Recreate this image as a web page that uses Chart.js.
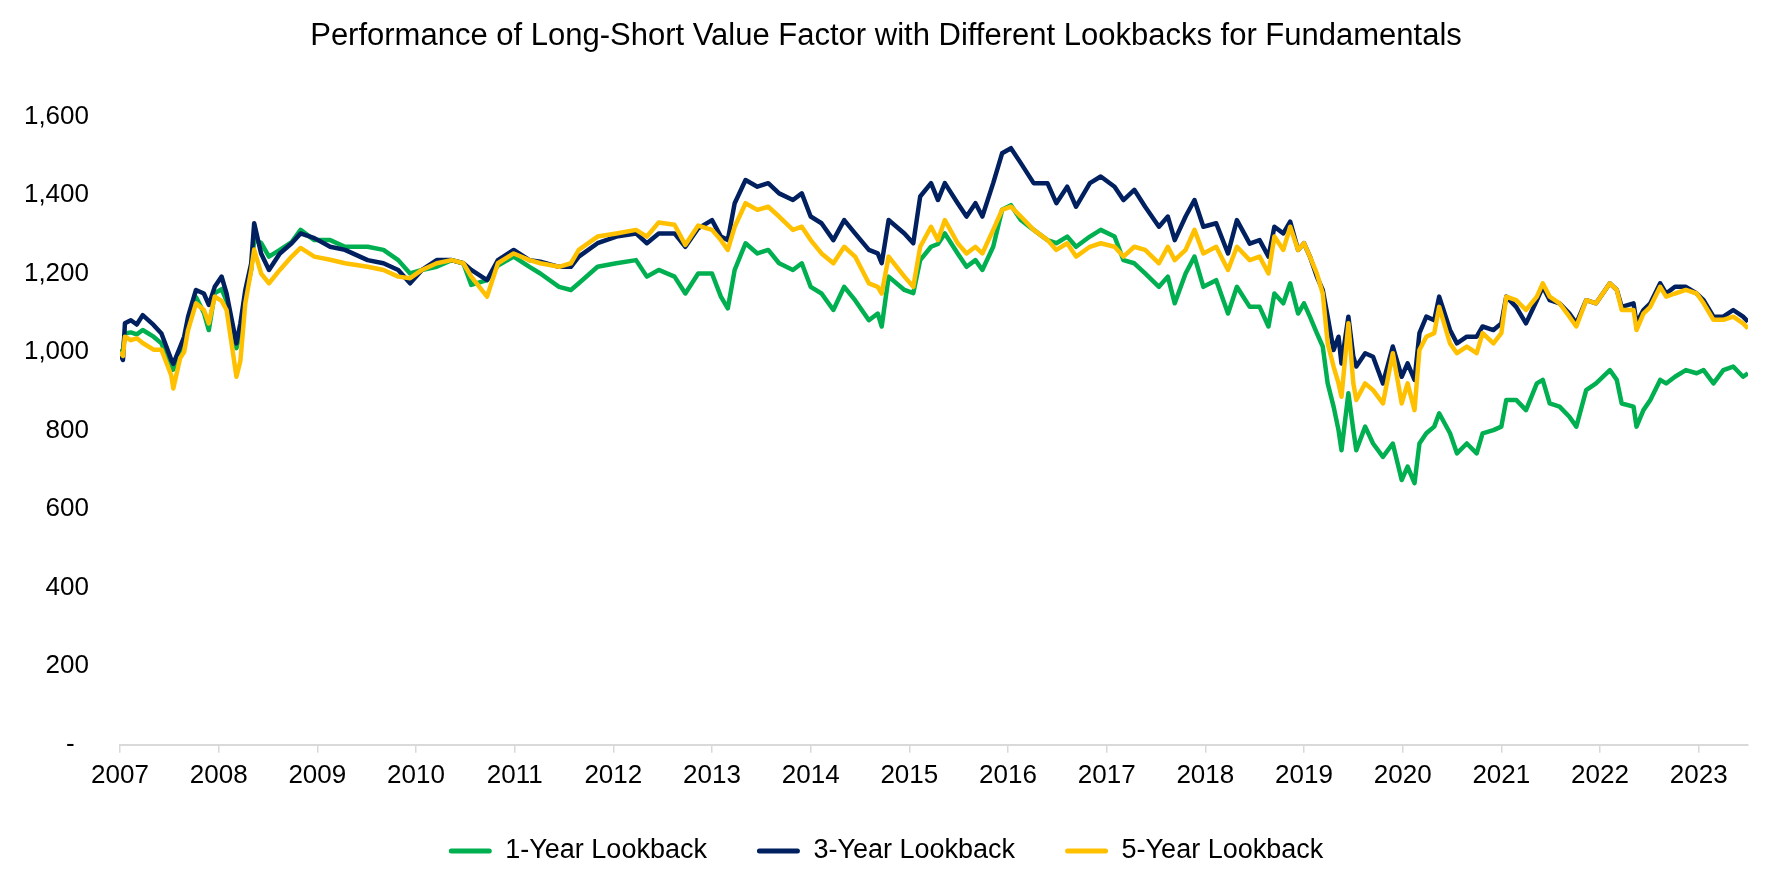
<!DOCTYPE html>
<html>
<head>
<meta charset="utf-8">
<title>Performance of Long-Short Value Factor</title>
<script src="https://cdn.jsdelivr.net/npm/chart.js@4.4.1/dist/chart.umd.min.js"></script>
<style>
    html, body { margin: 0; padding: 0; background: #fff; }
    #wrap { width: 1772px; height: 886px; }
</style>
</head>
<body>
<div id="wrap"><canvas id="chartContainer" width="1772" height="886"></canvas></div>
<script>
// dates as decimal years
var dates = [
    2007.00, 2007.03, 2007.05, 2007.11, 2007.17, 2007.23, 2007.34, 2007.42, 2007.52, 2007.54,
    2007.61, 2007.65, 2007.69, 2007.77, 2007.85, 2007.90, 2007.96, 2008.03, 2008.08, 2008.14,
    2008.18, 2008.22, 2008.27, 2008.33, 2008.36, 2008.43, 2008.51, 2008.62, 2008.74, 2008.83,
    2008.97, 2009.13, 2009.28, 2009.51, 2009.67, 2009.82, 2009.94, 2010.06, 2010.21, 2010.36,
    2010.48, 2010.56, 2010.72, 2010.83, 2010.99, 2011.15, 2011.26, 2011.45, 2011.57, 2011.65,
    2011.84, 2012.03, 2012.23, 2012.34, 2012.46, 2012.62, 2012.73, 2012.86, 2013.00, 2013.09,
    2013.16, 2013.23, 2013.34, 2013.46, 2013.57, 2013.68, 2013.82, 2013.91, 2014.00, 2014.11,
    2014.23, 2014.34, 2014.45, 2014.59, 2014.68, 2014.72, 2014.79, 2014.95, 2015.04, 2015.11,
    2015.22, 2015.29, 2015.36, 2015.49, 2015.58, 2015.67, 2015.74, 2015.85, 2015.94, 2016.03,
    2016.13, 2016.26, 2016.40, 2016.49, 2016.60, 2016.69, 2016.83, 2016.94, 2017.08, 2017.17,
    2017.28, 2017.39, 2017.53, 2017.62, 2017.69, 2017.80, 2017.89, 2017.98, 2018.11, 2018.23,
    2018.32, 2018.45, 2018.55, 2018.64, 2018.70, 2018.79, 2018.86, 2018.94, 2019.00, 2019.06,
    2019.13, 2019.19, 2019.24, 2019.30, 2019.35, 2019.38, 2019.45, 2019.50, 2019.53, 2019.62,
    2019.70, 2019.80, 2019.90, 2019.99, 2020.05, 2020.12, 2020.17, 2020.24, 2020.32, 2020.37,
    2020.48, 2020.55, 2020.65, 2020.75, 2020.81, 2020.92, 2021.00, 2021.05, 2021.15, 2021.25,
    2021.36, 2021.42, 2021.49, 2021.59, 2021.69, 2021.76, 2021.86, 2021.96, 2022.10, 2022.17,
    2022.22, 2022.34, 2022.37, 2022.44, 2022.51, 2022.61, 2022.67, 2022.76, 2022.87, 2022.98,
    2023.05, 2023.15, 2023.25, 2023.35, 2023.45, 2023.50
];

var oneYear = [
    1000, 1005, 1047, 1050, 1045, 1056, 1039, 1022, 963, 955,
    995, 1020, 1080, 1140, 1100, 1056, 1150, 1160, 1130, 1050,
    1010, 1050, 1140, 1210, 1285, 1278, 1243, 1260, 1280, 1311,
    1285, 1285, 1268, 1268, 1260, 1234, 1200, 1209, 1217, 1234,
    1226, 1171, 1183, 1220, 1243, 1217, 1200, 1166, 1158, 1175,
    1217, 1226, 1234, 1192, 1209, 1192, 1149, 1200, 1200, 1141,
    1111, 1209, 1277, 1251, 1260, 1226, 1209, 1226, 1166, 1149,
    1107, 1166, 1132, 1081, 1098, 1065, 1192, 1158, 1150, 1234,
    1268, 1275, 1302, 1251, 1217, 1234, 1209, 1268, 1362, 1374,
    1336, 1311, 1285, 1277, 1294, 1268, 1294, 1311, 1294, 1234,
    1226, 1200, 1166, 1192, 1124, 1200, 1243, 1166, 1183, 1098,
    1166, 1115, 1115, 1065, 1149, 1124, 1175, 1098, 1124, 1090,
    1048, 1014, 920, 861, 801, 750, 895, 801, 750, 810,
    767, 733, 767, 674, 708, 666, 767, 793, 810, 844,
    793, 742, 767, 742, 793, 801, 810, 878, 878, 852,
    920, 929, 869, 861, 835, 810, 903, 920, 954, 929,
    869, 861, 810, 852, 878, 929, 920, 937, 954, 946,
    954, 920, 954, 963, 937, 946
];

var threeYear = [
    995, 980, 1073, 1081, 1070, 1094, 1069, 1047, 980, 970,
    1013, 1039, 1090, 1158, 1149, 1120, 1166, 1192, 1149, 1073,
    1022, 1073, 1158, 1226, 1328, 1251, 1209, 1251, 1277, 1302,
    1290, 1268, 1260, 1234, 1226, 1209, 1175, 1209, 1234, 1234,
    1226, 1209, 1183, 1234, 1260, 1234, 1230, 1217, 1217, 1243,
    1277, 1294, 1302, 1277, 1302, 1302, 1268, 1315, 1336, 1294,
    1285, 1379, 1438, 1421, 1430, 1404, 1387, 1404, 1345, 1328,
    1285, 1336, 1302, 1260, 1251, 1226, 1336, 1302, 1277, 1396,
    1430, 1387, 1430, 1379, 1345, 1379, 1345, 1430, 1506, 1519,
    1481, 1430, 1430, 1379, 1421, 1370, 1430, 1447, 1421, 1387,
    1413, 1370, 1319, 1345, 1285, 1345, 1387, 1319, 1328, 1251,
    1336, 1276, 1285, 1243, 1319, 1302, 1332, 1260, 1277, 1243,
    1192, 1158, 1090, 1005, 1039, 971, 1090, 988, 963, 997,
    988, 920, 1014, 937, 971, 929, 1048, 1090, 1081, 1141,
    1056, 1022, 1039, 1039, 1065, 1056, 1073, 1141, 1115, 1073,
    1132, 1166, 1132, 1124, 1098, 1073, 1132, 1124, 1175, 1158,
    1115, 1124, 1073, 1107, 1124, 1175, 1149, 1166, 1166, 1149,
    1132, 1090, 1090, 1107, 1090, 1077
];

var fiveYear = [
    1000, 990, 1039, 1030, 1035, 1023, 1006, 1006, 940, 907,
    985, 1000, 1056, 1124, 1107, 1073, 1141, 1130, 1107, 1006,
    937, 977, 1124, 1209, 1261, 1200, 1175, 1209, 1243, 1265,
    1243, 1235, 1226, 1217, 1209, 1192, 1188, 1209, 1226, 1234,
    1226, 1192, 1141, 1226, 1251, 1234, 1226, 1217, 1226, 1260,
    1294, 1302, 1311, 1294, 1330, 1324, 1273, 1322, 1311, 1285,
    1260, 1319, 1379, 1362, 1370, 1345, 1311, 1319, 1285, 1251,
    1226, 1268, 1243, 1175, 1166, 1149, 1243, 1192, 1166, 1268,
    1319, 1285, 1336, 1277, 1251, 1268, 1251, 1311, 1362, 1370,
    1345, 1311, 1285, 1260, 1277, 1243, 1268, 1277, 1268, 1243,
    1268, 1260, 1226, 1268, 1234, 1260, 1311, 1251, 1268, 1209,
    1268, 1234, 1243, 1200, 1294, 1260, 1319, 1260, 1277, 1243,
    1200, 1149, 1022, 963, 920, 886, 1073, 920, 878, 920,
    903, 869, 997, 869, 920, 852, 1005, 1039, 1048, 1115,
    1022, 997, 1014, 997, 1048, 1022, 1048, 1141, 1132, 1107,
    1141, 1175, 1141, 1124, 1090, 1065, 1132, 1124, 1175, 1158,
    1107, 1107, 1056, 1098, 1115, 1166, 1141, 1149, 1158, 1149,
    1124, 1082, 1082, 1090, 1073, 1060
];

var seriesNames = ["1-Year Lookback", "3-Year Lookback", "5-Year Lookback"];
var seriesColors = ["#00B050", "#002060", "#FFC000"];
var yTicks = [0, 200, 400, 600, 800, 1000, 1200, 1400, 1600];

var fontFamily = "'Liberation Sans', Arial, Helvetica, sans-serif";

function toPoints(values) {
    return dates.map(function(d, i) {
        return { x: d, y: values[i] };
    });
}

var allSeries = [oneYear, threeYear, fiveYear];
var datasets = allSeries.map(function(values, i) {
    return {
        label: seriesNames[i],
        data: toPoints(values),
        borderColor: seriesColors[i],
        backgroundColor: seriesColors[i],
        borderWidth: 4.5,
        borderJoinStyle: "round",
        pointRadius: 0,
        tension: 0,
        fill: false,
        order: 3 - i   // yellow on top, green underneath
    };
});

var ctx = document.getElementById('chartContainer').getContext('2d');

const cfg = {
    type: "line",
    data: { datasets: datasets },
    options: {
        responsive: false,
        animation: false,
        layout: {
            padding: { left: 24, right: 24, top: 0, bottom: 11.5 }
        },
        plugins: {
            title: {
                display: true,
                text: "Performance of Long-Short Value Factor with Different Lookbacks for Fundamentals",
                color: "#000",
                font: { family: fontFamily, size: 31, weight: "normal" },
                padding: { top: 18, bottom: 61.2 }
            },
            legend: {
                display: true,
                position: "bottom",
                labels: {
                    color: "#000",
                    font: { family: fontFamily, size: 27 },
                    boxWidth: 43,
                    boxHeight: 5,
                    padding: 50,
                    generateLabels: function(chart) {
                        var items = Chart.defaults.plugins.legend.labels.generateLabels(chart);
                        items.forEach(function(it) {
                            it.lineWidth = 0;
                            it.borderRadius = 2.5;
                        });
                        return items.sort(function(a, b) { return a.datasetIndex - b.datasetIndex; });
                    }
                }
            },
            tooltip: { enabled: false }
        },
        scales: {
            x: {
                type: "linear",
                min: 2007,
                max: 2023.5,
                afterFit: function(scale) { scale.height = 42.8; },
                border: { display: true, color: "#d9d9d9", width: 2 },
                grid: {
                    display: true,
                    drawOnChartArea: false,
                    drawTicks: true,
                    tickLength: 8,
                    color: "#d9d9d9",
                    lineWidth: 1.5
                },
                ticks: {
                    stepSize: 1,
                    includeBounds: false,
                    autoSkip: false,
                    maxRotation: 0,
                    padding: 7.2,
                    color: "#000",
                    font: { family: fontFamily, size: 26 },
                    callback: function(value) { return String(value); }
                }
            },
            y: {
                min: yTicks[0],
                max: yTicks[yTicks.length - 1],
                afterFit: function(scale) { scale.width = 96; },
                border: { display: false },
                grid: { display: false, drawTicks: false },
                ticks: {
                    stepSize: 200,
                    padding: 31,
                    color: "#000",
                    font: { family: fontFamily, size: 26 },
                    callback: function(value) {
                        if (value == 0) return "-  ";
                        return value.toString().replace(/\B(?=(\d{3})+(?!\d))/g, ',');
                    }
                }
            }
        }
    }
};

var perf_chart = new Chart(ctx, cfg);
</script>
</body>
</html>
